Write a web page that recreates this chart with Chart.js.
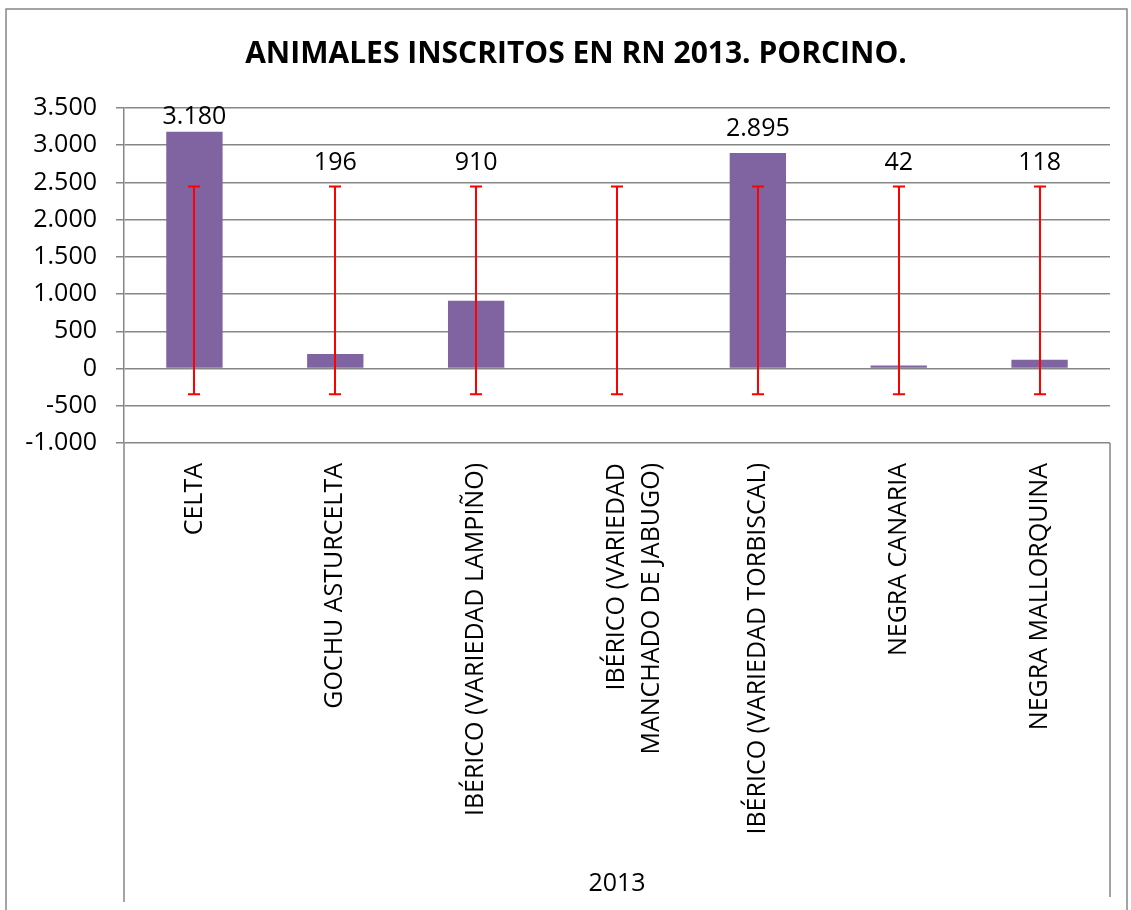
<!DOCTYPE html>
<html>
<head>
<meta charset="utf-8">
<script src="https://cdn.jsdelivr.net/npm/chart.js@4.4.1/dist/chart.umd.min.js"></script>
<style>
  html, body { margin: 0; padding: 0; background: #ffffff; }
  #wrap { width: 1131px; height: 910px; position: relative; }
</style>
</head>
<body>
<div id="wrap"><canvas id="c" width="1131" height="910"></canvas></div>
<script>
const chartTitle = 'ANIMALES INSCRITOS EN RN 2013. PORCINO.';
const axisTitle = '2013';
const categories = [
  'CELTA',
  'GOCHU ASTURCELTA',
  'IBÉRICO (VARIEDAD LAMPIÑO)',
  ['IBÉRICO (VARIEDAD', 'MANCHADO DE JABUGO)'],
  'IBÉRICO (VARIEDAD TORBISCAL)',
  'NEGRA CANARIA',
  'NEGRA MALLORQUINA'
];
const values = [3180, 196, 910, null, 2895, 42, 118];
const errorLow = [-346, -346, -346, -346, -346, -346, -346];
const errorHigh = [2444, 2444, 2444, 2444, 2444, 2444, 2444];
const yTicksMin = -1000;
const yTicksMax = 3500;
const yTicksStep = 500;

function fmt(v) {
  const neg = v < 0;
  let s = String(Math.abs(Math.round(v)));
  s = s.replace(/\B(?=(\d{3})+(?!\d))/g, '.');
  return (neg ? '-' : '') + s;
}

const FONT = "'Open Sans', 'Noto Sans', sans-serif";
const GRID = '#878787';

const framePlugin = {
  id: 'frame',
  beforeDraw(chart) {
    const ctx = chart.ctx;
    ctx.save();
    ctx.fillStyle = '#ffffff';
    ctx.fillRect(0, 0, chart.width, chart.height);
    ctx.strokeStyle = GRID;
    ctx.lineWidth = 1.5;
    ctx.beginPath();
    ctx.moveTo(6, chart.height + 5);
    ctx.lineTo(6, 9);
    ctx.lineTo(1127, 9);
    ctx.lineTo(1127, chart.height + 5);
    ctx.stroke();
    ctx.fillStyle = '#000000';
    ctx.font = 'bold 30px ' + FONT;
    ctx.textAlign = 'center';
    ctx.textBaseline = 'middle';
    ctx.fillText(chartTitle, 576, 54);
    ctx.restore();
  },
  afterDraw(chart) {
    const ctx = chart.ctx;
    const a = chart.chartArea;
    ctx.save();
    ctx.strokeStyle = GRID;
    ctx.lineWidth = 1.5;
    ctx.beginPath();
    ctx.moveTo(a.left, a.bottom);
    ctx.lineTo(a.left, 902);
    ctx.moveTo(a.right, a.bottom);
    ctx.lineTo(a.right, 897);
    ctx.stroke();
    ctx.restore();
  }
};

const errorBarPlugin = {
  id: 'errorBars',
  afterDatasetsDraw(chart) {
    const ctx = chart.ctx;
    const xs = chart.scales.x, ys = chart.scales.y;
    ctx.save();
    ctx.strokeStyle = '#ff0000';
    ctx.lineWidth = 2;
    for (let i = 0; i < categories.length; i++) {
      const x = Math.round(xs.getPixelForValue(i));
      const y1 = ys.getPixelForValue(errorLow[i]);
      const y2 = ys.getPixelForValue(errorHigh[i]);
      ctx.beginPath();
      ctx.moveTo(x, y1); ctx.lineTo(x, y2);
      ctx.moveTo(x - 6, y1); ctx.lineTo(x + 6, y1);
      ctx.moveTo(x - 6, y2); ctx.lineTo(x + 6, y2);
      ctx.stroke();
    }
    ctx.restore();
  }
};

const labelPlugin = {
  id: 'valueLabels',
  afterDatasetsDraw(chart) {
    const ctx = chart.ctx;
    const xs = chart.scales.x, ys = chart.scales.y;
    const a = chart.chartArea;
    ctx.save();
    ctx.fillStyle = '#000000';
    ctx.font = '25px ' + FONT;
    ctx.textAlign = 'center';
    ctx.textBaseline = 'middle';
    for (let i = 0; i < values.length; i++) {
      if (values[i] === null) continue;
      const x = xs.getPixelForValue(i);
      const top = Math.min(ys.getPixelForValue(values[i]), ys.getPixelForValue(errorHigh[i]));
      let y = top - 24;
      if (y < a.top + 9) y = a.top + 9;
      ctx.fillText(fmt(values[i]), x, y);
    }
    ctx.restore();
  }
};

new Chart(document.getElementById('c'), {
  type: 'bar',
  data: {
    labels: categories,
    datasets: [{
      label: 'Animales',
      data: values,
      backgroundColor: '#8064A2',
      borderWidth: 0,
      barPercentage: 0.4,
      categoryPercentage: 1.0
    }]
  },
  options: {
    responsive: false,
    animation: false,
    devicePixelRatio: 1,
    layout: { padding: { left: 10, right: 21, top: 108, bottom: 0 } },
    plugins: {
      legend: { display: false },
      tooltip: { enabled: false },
      title: { display: false }
    },
    scales: {
      x: {
        grid: { display: false, drawTicks: false },
        border: { display: false },
        ticks: {
          autoSkip: false,
          minRotation: 90,
          maxRotation: 90,
          padding: 20,
          color: '#000000',
          font: { family: FONT, size: 25, lineHeight: 1.4 }
        },
        title: {
          display: true,
          text: axisTitle,
          color: '#000000',
          font: { family: FONT, size: 25, lineHeight: 1.2 },
          padding: { top: 0, bottom: 11 }
        },
        afterFit(scale) { scale.height = 467; }
      },
      y: {
        min: yTicksMin,
        max: yTicksMax,
        grid: { color: GRID, lineWidth: 1.5, drawTicks: true, tickLength: 8, tickColor: GRID },
        border: { display: true, color: GRID, width: 1.5 },
        ticks: {
          stepSize: yTicksStep,
          padding: 19,
          color: '#000000',
          font: { family: FONT, size: 25 },
          callback: (v) => fmt(v)
        },
        afterFit(scale) { scale.width = 114; }
      }
    }
  },
  plugins: [framePlugin, errorBarPlugin, labelPlugin]
});
</script>
</body>
</html>
